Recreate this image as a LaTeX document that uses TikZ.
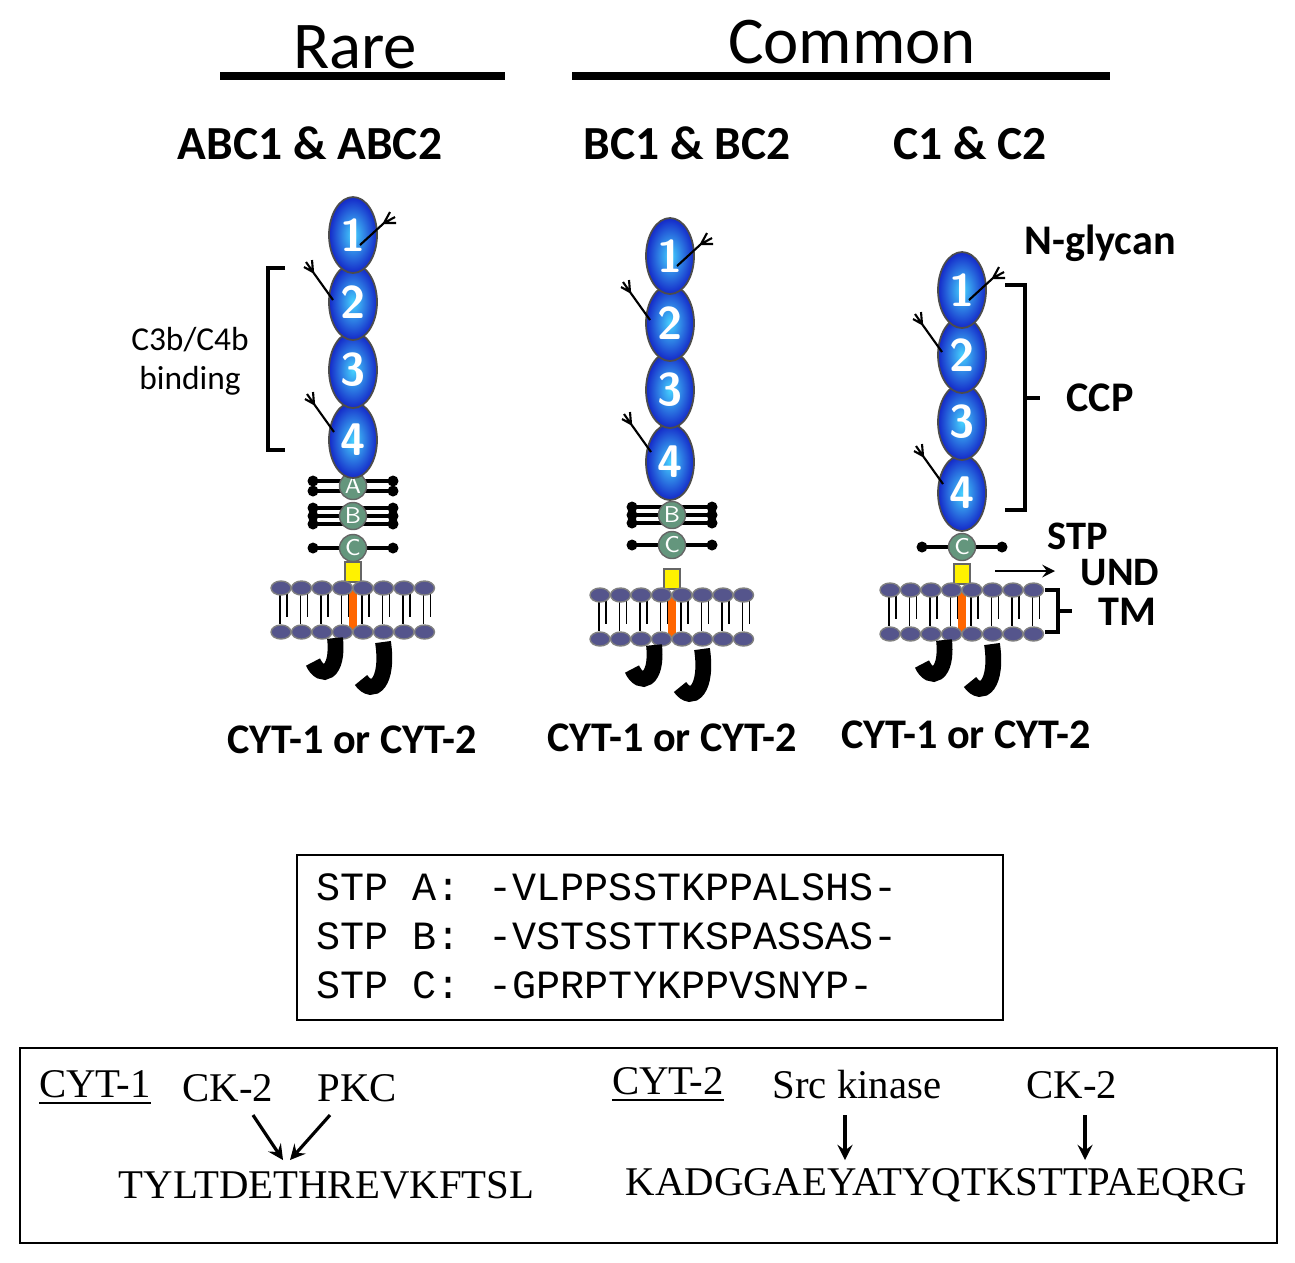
\documentclass[tikz,border=0pt]{standalone}
\usepackage{fontspec}
\setmainfont{Liberation Serif}
\newfontfamily\carl{Carlito}
\newfontfamily\monof{Liberation Mono}
\definecolor{head}{RGB}{85,85,140}
\definecolor{stpc}{RGB}{100,150,125}
\definecolor{ccpin}{RGB}{70,210,255}
\definecolor{ccpout}{RGB}{20,40,200}
\begin{document}
\begin{tikzpicture}[x=0.01cm,y=-0.01cm,
  lbl/.style={font=\carl\fontsize{12}{13}\selectfont\bfseries,inner sep=0},
  seq/.style={font=\fontsize{11.6}{12}\selectfont,inner sep=0},
  mon/.style={font=\monof\fontsize{11.4}{12}\selectfont,inner sep=0,anchor=west},
  arr/.style={->,>=stealth,line width=0.9pt}]
\useasboundingbox (0,0) rectangle (1295,1262);
\newcommand\ccp[3]{\shade[draw=black!70,line width=0.5pt,inner color=ccpin,outer color=ccpout] (#1,#2) ellipse [x radius=24,y radius=38];
  \node[text=white,font=\sffamily\bfseries\fontsize{13}{13}\selectfont] at (#1,#2) {#3};}
\newcommand\glyR[2]{\draw[line width=0.6pt] (#1,#2) -- ++(24,-22) -- ++(12,0) ++(-12,0) -- ++(6,-11) ++(-6,11) -- ++(11,-6);}
\newcommand\glyL[2]{\draw[line width=0.6pt] (#1,#2) -- ++(-20,-28) -- ++(-9,-5) ++(9,5) -- ++(-1,-12) ++(1,12) -- ++(-7,-10);}
\newcommand\stp[4]{\foreach \o in {#4}{\draw[line width=0.9pt] (#1-40,#2+\o) -- (#1+40,#2+\o);
   \fill (#1-40,#2+\o) circle (5.5); \fill (#1+40,#2+\o) circle (5.5);}
  \draw[fill=stpc,draw=black!60] (#1,#2) circle (13.5);
  \node[text=white,font=\sffamily\fontsize{6.5}{7}\selectfont] at (#1,#2) {#3};}
\newcommand\mem[2]{%
  \fill[yellow,draw=black!60] (#1-8,#2) rectangle (#1+8,#2+20);
  \foreach \i in {0,...,7}{\draw[line width=0.5pt] (#1-70+\i*20.5-3,#2+30) -- (#1-70+\i*20.5-3,#2+62);
    \draw[line width=0.5pt] (#1-70+\i*20.5+4,#2+30) -- (#1-70+\i*20.5+4,#2+55);}
  \fill[orange!80!red] (#1-4,#2+28) rectangle (#1+4,#2+68);
  \foreach \i in {0,...,7}{\fill[head,draw=black!50] (#1-72+\i*20.5,#2+26) ellipse [x radius=10,y radius=7];
    \fill[head,draw=black!50] (#1-72+\i*20.5,#2+70) ellipse [x radius=10,y radius=7];}
  \draw[line width=4.5pt] (#1-18,#2+76) .. controls (#1-14,#2+112) and (#1-32,#2+118) .. (#1-40,#2+100);
  \draw[line width=4.5pt] (#1+30,#2+80) .. controls (#1+36,#2+120) and (#1+20,#2+135) .. (#1+8,#2+118);}
% headings
\node[font=\carl\fontsize{19}{20}\selectfont,inner sep=0] (rare) at (355,47) {Rare};
\node[font=\carl\fontsize{19}{20}\selectfont,inner sep=0] (common) at (852,42) {Common};
\draw[line width=2.5pt] (220,76) -- (505,76); \draw[line width=2.5pt] (572,76) -- (1110,76);
\node[lbl] (h1) at (310,143) {\fontsize{13.5}{14}\selectfont ABC1 \& ABC2};
\node[lbl] (h2) at (687,143) {\fontsize{13.5}{14}\selectfont BC1 \& BC2};
\node[lbl] (h3) at (970,143) {\fontsize{13.5}{14}\selectfont C1 \& C2};
% left molecule
\mem{353}{562}
\stp{353}{548}{C}{0}\stp{353}{516}{B}{-8,0,8}\stp{353}{486}{A}{-5,5}
\ccp{353}{440}{4}\ccp{353}{370}{3}\ccp{353}{302}{2}\ccp{353}{235}{1}
\glyR{360}{245}\glyL{333}{300}\glyL{334}{432}
% middle
\mem{672}{569}
\stp{672}{545}{C}{0}\stp{672}{515}{B}{-8,0,8}
\ccp{670}{462}{4}\ccp{670}{390}{3}\ccp{670}{323}{2}\ccp{670}{256}{1}
\glyR{677}{266}\glyL{650}{320}\glyL{651}{452}
% right
\mem{962}{564}
\stp{962}{547}{C}{0}
\ccp{962}{493}{4}\ccp{962}{422}{3}\ccp{962}{355}{2}\ccp{962}{290}{1}
\glyR{969}{300}\glyL{942}{352}\glyL{943}{484}
% annotations
\draw[line width=1pt] (285,268) -- (268,268) -- (268,450) -- (285,450);
\node[font=\carl\fontsize{9.5}{11}\selectfont,align=center] (bind) at (190,361) {C3b/C4b\\binding};
\draw[line width=1pt] (1005,285) -- (1025,285) -- (1025,510) -- (1005,510);
\draw[line width=1pt] (1025,398) -- (1040,398);
\node[lbl] (ccp) at (1100,398) {CCP};
\node[lbl] (ng) at (1100,243) {N-glycan};
\node[lbl,font=\carl\fontsize{11.5}{12}\selectfont\bfseries] (stp) at (1078,536) {STP};
\node[lbl,font=\carl\fontsize{11.5}{12}\selectfont\bfseries] (und) at (1120,573) {UND};
\node[lbl] (tm) at (1127,612) {TM};
\coordinate (ua) at (995,571);
\draw[->,>=stealth,line width=0.6pt] (ua) -- (1055,571);
\draw[line width=1pt] (1045,590) -- (1058,590) -- (1058,632) -- (1045,632);
\draw[line width=1pt] (1058,611) -- (1072,611);
\node[lbl] (c1) at (352,740) {CYT-1 or CYT-2};
\node[lbl] (c2) at (672,738) {CYT-1 or CYT-2};
\node[lbl] (c3) at (966,735) {CYT-1 or CYT-2};
% STP box
\draw[line width=0.7pt] (297,855) rectangle (1003,1020);
\foreach \y/\l/\s in {887/A/-VLPPSSTKPPALSHS-,936/B/-VSTSSTTKSPASSAS-,985/C/-GPRPTYKPPVSNYP-}{
  \node[mon] at (316,\y) {STP}; \node[mon] at (412,\y) {\l:}; \node[mon] at (488,\y) {\s};}
% CYT box
\draw[line width=0.7pt] (20,1048) rectangle (1277,1243);
\node[seq] (cyt1) at (95,1088) {\underline{CYT-1}};
\node[seq] (ck1) at (228,1088) {CK-2};
\node[seq] (pkc) at (357,1088) {PKC};
\node[seq,anchor=west] (s1) at (118,1185) {TYLTDETHREVKFTSL};
\node[seq] (cyt2) at (668,1085) {\underline{CYT-2}};
\node[seq] (src) at (857,1085) {Src kinase};
\node[seq] (ck2) at (1072,1085) {CK-2};
\node[seq,anchor=west] (s2) at (625,1185) {KADGGAEYATYQTKSTTPAEQRG};
\coordinate (t1) at (283,1160); \coordinate (t2) at (290,1160);
\coordinate (t3) at (845,1160); \coordinate (t4) at (1085,1160);
\draw[arr] (253,1115) -- (t1); \draw[arr] (330,1115) -- (t2);
\draw[arr] (845,1115) -- (t3); \draw[arr] (1085,1115) -- (t4);
\end{tikzpicture}
\end{document}
